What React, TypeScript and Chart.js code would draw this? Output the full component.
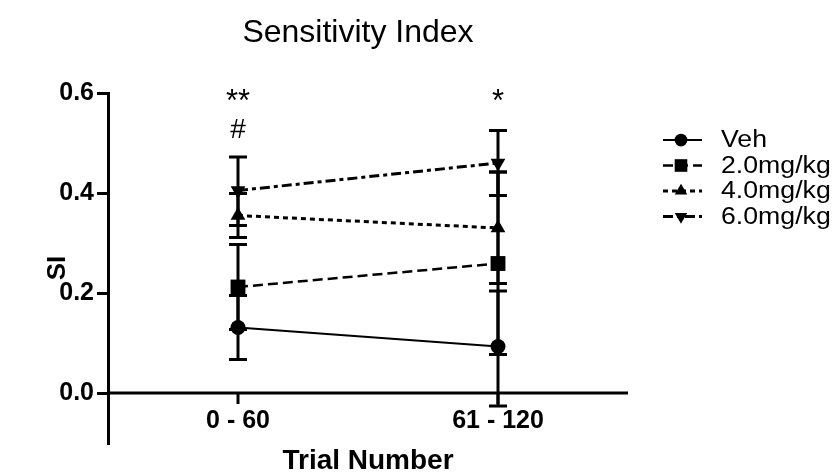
import React, { useEffect, useRef } from "react";
import { Chart, registerables } from "chart.js";
import { drawPoint } from "chart.js/helpers";

Chart.register(...registerables);

// ---------- data ----------
const chartTitle = "Sensitivity Index";
const xTitle = "Trial Number";
const yTitle = "SI";
const categories = ["0 - 60", "61 - 120"];
const seriesNames = ["Veh", "2.0mg/kg", "4.0mg/kg", "6.0mg/kg"];

const vehMean = [0.131, 0.093];
const vehLow = [0.067, -0.026];
const vehHigh = [0.195, 0.204];

const mg2Mean = [0.212, 0.259];
const mg2Low = [0.127, 0.077];
const mg2High = [0.297, 0.442];

const mg4Mean = [0.355, 0.33];
const mg4Low = [0.311, 0.219];
const mg4High = [0.399, 0.442];

const mg6Mean = [0.405, 0.46];
const mg6Low = [0.335, 0.395];
const mg6High = [0.472, 0.525];

const yTicks = [0, 0.2, 0.4, 0.6];
const starMarks = ["**", "*"];
const hashMarks = ["#", ""];

// ---------- styles ----------
const FONT = "'Liberation Sans', Arial, Helvetica, sans-serif";

function makeDataset(name: string, mean: number[], low: number[], high: number[], style: any) {
  return {
    label: name,
    data: mean.map((v, i) => ({ x: i, y: v })),
    errLow: low,
    errHigh: high,
    borderColor: "#000",
    backgroundColor: "#000",
    pointBackgroundColor: "#000",
    pointBorderColor: "#000",
    pointBorderWidth: 0,
    pointHoverRadius: style.pointRadius,
    fill: false,
    tension: 0,
    ...style,
  };
}

const errorBarPlugin = {
  id: "errorBars",
  beforeDatasetsDraw(chart: any) {
    const { ctx, chartArea } = chart;
    const xs = chart.scales.x;
    const ys = chart.scales.y;
    ctx.save();
    // x axis at y = 0
    const y0 = ys.getPixelForValue(0);
    ctx.strokeStyle = "#000";
    ctx.lineWidth = 3;
    ctx.beginPath();
    ctx.moveTo(chartArea.left, y0);
    ctx.lineTo(chartArea.right, y0);
    ctx.stroke();
    categories.forEach((c, i) => {
      const x = xs.getPixelForValue(i);
      ctx.beginPath();
      ctx.moveTo(x, y0);
      ctx.lineTo(x, y0 + 11);
      ctx.stroke();
    });
    // error bars
    chart.data.datasets.forEach((ds: any) => {
      ds.data.forEach((pt: any, i: number) => {
        const x = xs.getPixelForValue(pt.x);
        const yl = ys.getPixelForValue(ds.errLow[i]);
        const yh = ys.getPixelForValue(ds.errHigh[i]);
        ctx.beginPath();
        ctx.moveTo(x, yl);
        ctx.lineTo(x, yh);
        ctx.moveTo(x - 9, yl);
        ctx.lineTo(x + 9, yl);
        ctx.moveTo(x - 9, yh);
        ctx.lineTo(x + 9, yh);
        ctx.stroke();
      });
    });
    ctx.restore();
  },
  afterDraw(chart: any) {
    const { ctx, chartArea } = chart;
    const xs = chart.scales.x;
    const ys = chart.scales.y;
    ctx.save();
    ctx.fillStyle = "#000";
    // title
    ctx.font = `32px ${FONT}`;
    ctx.textAlign = "center";
    ctx.textBaseline = "alphabetic";
    ctx.fillText(chartTitle, 358, 42);
    // x tick labels
    ctx.font = `bold 25px ${FONT}`;
    categories.forEach((c, i) => {
      ctx.fillText(c, xs.getPixelForValue(i), 428);
    });
    // x title
    ctx.font = `bold 28px ${FONT}`;
    ctx.fillText(xTitle, (chartArea.left + chartArea.right) / 2, 469);
    // significance marks
    const yTop = ys.getPixelForValue(0.6);
    categories.forEach((c, i) => {
      const x = xs.getPixelForValue(i);
      ctx.font = `31px ${FONT}`;
      if (starMarks[i]) ctx.fillText(starMarks[i], x, yTop + 18);
      ctx.font = `28px ${FONT}`;
      if (hashMarks[i]) ctx.fillText(hashMarks[i], x, yTop + 45);
    });
    // legend
    const legendTop = 140;
    const spacing = 25.5;
    chart.data.datasets.forEach((ds: any, i: number) => {
      const y = legendTop + i * spacing;
      ctx.save();
      ctx.strokeStyle = "#000";
      ctx.lineWidth = ds.borderWidth;
      ctx.setLineDash(ds.borderDash || []);
      ctx.beginPath();
      ctx.moveTo(663, y);
      ctx.lineTo(702, y);
      ctx.stroke();
      ctx.restore();
      ctx.fillStyle = "#000";
      ctx.strokeStyle = "#000";
      drawPoint(
        ctx,
        { pointStyle: ds.pointStyle, rotation: ds.pointRotation || 0, radius: ds.pointRadius * 0.85, borderWidth: 0 },
        681,
        y
      );
      ctx.save();
      ctx.fillStyle = "#000";
      ctx.font = `23px ${FONT}`;
      ctx.textAlign = "left";
      ctx.textBaseline = "middle";
      ctx.translate(721, y + 1);
      ctx.scale(1.16, 1);
      ctx.fillText(ds.label, 0, 0);
      ctx.restore();
    });
    ctx.restore();
  },
};

export default function App() {
  const canvasRef = useRef<HTMLCanvasElement | null>(null);

  useEffect(() => {
    const canvas = canvasRef.current;
    if (!canvas) return;
    const chart = new Chart(canvas, {
      type: "line",
      data: {
        datasets: [
          makeDataset(seriesNames[0], vehMean, vehLow, vehHigh, {
            borderWidth: 2,
            borderDash: [],
            pointStyle: "circle",
            pointRadius: 7.5,
          }),
          makeDataset(seriesNames[1], mg2Mean, mg2Low, mg2High, {
            borderWidth: 2.5,
            borderDash: [10, 5],
            pointStyle: "rect",
            pointRadius: 10.5,
          }),
          makeDataset(seriesNames[2], mg4Mean, mg4Low, mg4High, {
            borderWidth: 3,
            borderDash: [5, 4],
            pointStyle: "triangle",
            pointRadius: 8.5,
          }),
          makeDataset(seriesNames[3], mg6Mean, mg6Low, mg6High, {
            borderWidth: 3,
            borderDash: [10, 4, 4, 4],
            pointStyle: "triangle",
            pointRotation: 180,
            pointRadius: 8.5,
          }),
        ] as any,
      },
      options: {
        animation: false,
        responsive: false,
        devicePixelRatio: 1,
        layout: { padding: { left: 0, top: 93, right: 212, bottom: 29 } },
        plugins: {
          legend: { display: false },
          title: { display: false },
          tooltip: { enabled: false },
        },
        scales: {
          x: { type: "linear", min: -0.5, max: 1.5, display: false },
          y: {
            type: "linear",
            min: -0.1,
            max: 0.6,
            afterFit: (s: any) => {
              s.width = 108;
            },
            afterBuildTicks: (s: any) => {
              s.ticks = yTicks.map((v) => ({ value: v }));
            },
            ticks: {
              font: { family: FONT, size: 25, weight: "bold" },
              color: "#000",
              padding: 3,
              callback: (v: any) => Number(v).toFixed(1),
            },
            grid: {
              display: true,
              drawOnChartArea: false,
              drawTicks: true,
              tickLength: 11,
              lineWidth: 3,
              color: "#000",
            },
            border: { display: true, width: 3, color: "#000" },
            title: {
              display: true,
              text: yTitle,
              color: "#000",
              font: { family: FONT, size: 26, weight: "bold" },
              padding: { top: 42, bottom: 0 },
            },
          },
        },
      } as any,
      plugins: [errorBarPlugin],
    });
    return () => chart.destroy();
  }, []);

  return (
    <div style={{ position: "fixed", left: 0, top: 0, width: 840, height: 472, background: "#fff" }}>
      <canvas ref={canvasRef} width={840} height={472} style={{ width: 840, height: 472, display: "block" }} />
    </div>
  );
}
